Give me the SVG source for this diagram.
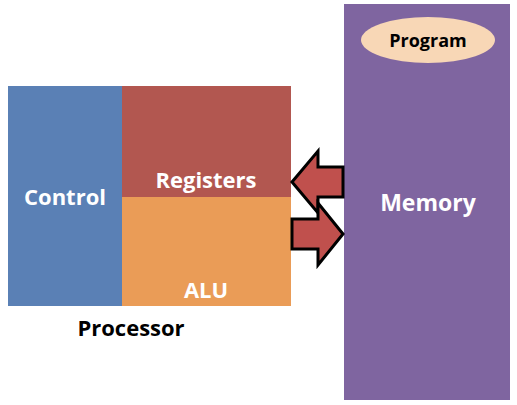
<svg xmlns="http://www.w3.org/2000/svg" width="517" height="405" viewBox="0 0 517 405">
<style>
.lbl{font-family:"Open Sans","Liberation Sans",sans-serif;font-weight:bold;font-size:22px;fill:#fff;text-anchor:middle}
.dark{fill:#000}
.arr{fill:#C0504D;stroke:#000;stroke-width:3;stroke-linejoin:miter}
</style>
<rect width="517" height="405" fill="#fff"/>
<g id="memory">
<rect x="344" y="4" width="166" height="396" fill="#7F65A0"/>
<text class="lbl" x="428" y="211" style="font-size:23px">Memory</text>
</g>
<g id="program">
<ellipse cx="428" cy="40" rx="67" ry="23" fill="#F8D7B6"/>
<text class="lbl dark" x="428" y="47" style="font-size:18px">Program</text>
</g>
<g id="control">
<rect x="8" y="86" width="114" height="220" fill="#5A80B5"/>
<text class="lbl" x="65" y="205">Control</text>
</g>
<g id="registers">
<rect x="122" y="86" width="169" height="111" fill="#B25750"/>
<text class="lbl" x="206" y="188">Registers</text>
</g>
<g id="alu">
<rect x="122" y="197" width="169" height="109" fill="#EA9C57"/>
<text class="lbl" x="206" y="298">ALU</text>
</g>
<g id="processor">
<text class="lbl dark" x="131" y="336">Processor</text>
</g>
<g id="connectors">
<polygon class="arr" points="292,182 318,151 318,167 343,167 343,197 318,197 318,213"/>
<polygon class="arr" points="343,234 318,203 318,219 292,219 292,249 318,249 318,265"/>
</g>
</svg>
